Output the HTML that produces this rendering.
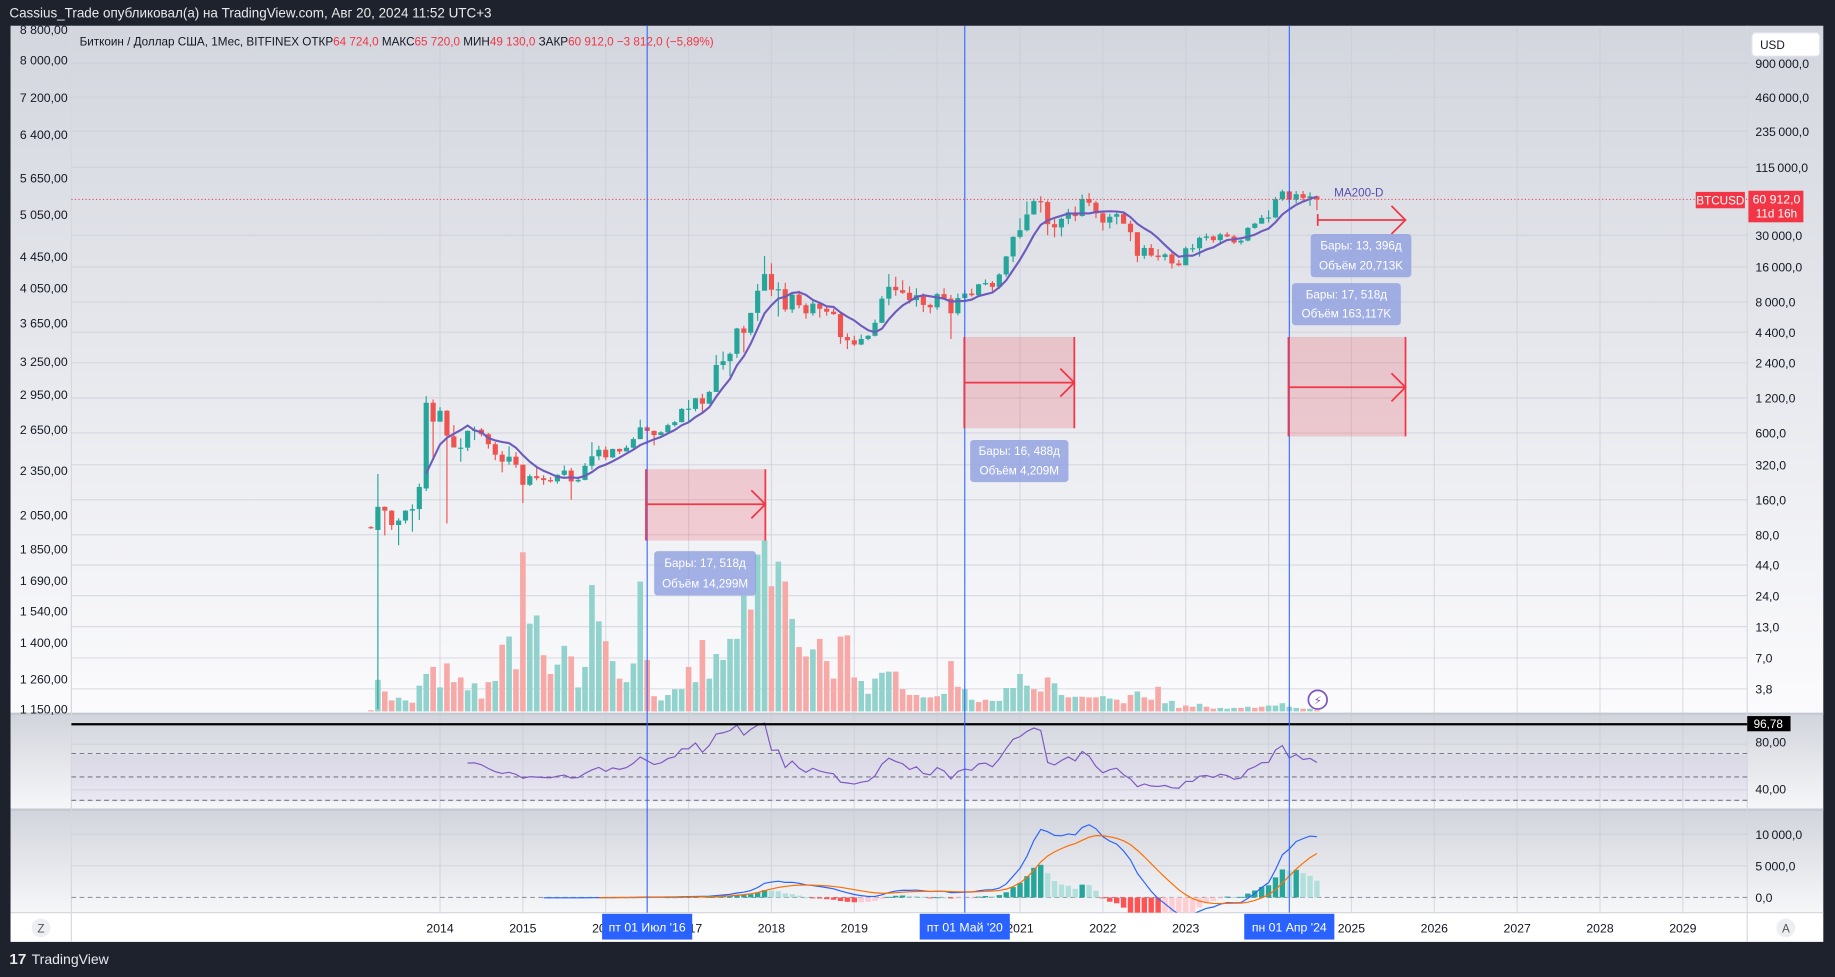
<!DOCTYPE html>
<html><head><meta charset="utf-8"><style>
html,body{margin:0;padding:0;background:#1e222d;overflow:hidden}
svg{display:block}
text{font-family:"Liberation Sans","DejaVu Sans",sans-serif}
</style></head><body>
<svg id="chart" width="1835" height="977" viewBox="0 0 1568 835" preserveAspectRatio="none" xmlns="http://www.w3.org/2000/svg">
<defs>
<linearGradient id="gMain" x1="0" y1="0" x2="0" y2="1"><stop offset="0" stop-color="#d3d6de"/><stop offset="1" stop-color="#fbfbfd"/></linearGradient>
<linearGradient id="gSub" x1="0" y1="0" x2="0" y2="1"><stop offset="0" stop-color="#d1d4dc"/><stop offset="1" stop-color="#f6f7f9"/></linearGradient>
<clipPath id="cMain"><rect x="61" y="22" width="1432" height="587"/></clipPath>
<clipPath id="cRsi"><rect x="61" y="611" width="1432" height="81"/></clipPath>
<clipPath id="cMacd"><rect x="61" y="693" width="1432" height="87"/></clipPath>
</defs>
<rect x="0" y="0" width="1568" height="835" fill="#1e222d"/>
<text x="8" y="15" font-size="11.5" fill="#e8e9ec">Cassius_Trade опубликовал(а) на TradingView.com, Авг 20, 2024 11:52 UTC+3</text>
<rect x="9" y="22" width="1549" height="588" fill="url(#gMain)"/>
<rect x="9" y="610" width="1549" height="82" fill="url(#gSub)"/>
<rect x="61" y="645" width="1432" height="40" fill="#7e57c2" fill-opacity="0.08"/>
<rect x="9" y="692" width="1549" height="88" fill="url(#gSub)"/>
<rect x="9" y="780" width="1549" height="25" fill="#ffffff"/>
<line x1="9" y1="610" x2="1558" y2="610" stroke="#c5c8d0" stroke-width="2"/>
<line x1="9" y1="692" x2="1558" y2="692" stroke="#c5c8d0" stroke-width="2"/>
<line x1="9" y1="780" x2="1558" y2="780" stroke="#d6d8de"/>
<line x1="61" y1="22" x2="61" y2="805" stroke="#d6d8de"/>
<line x1="1493" y1="22" x2="1493" y2="805" stroke="#d6d8de"/>
<g id="grid"></g>
<g id="vol" clip-path="url(#cMain)"></g>
<g id="candles" clip-path="url(#cMain)"></g>
<g id="ma" clip-path="url(#cMain)"></g>
<g id="rsi" clip-path="url(#cRsi)"></g>
<g id="macd" clip-path="url(#cMacd)"></g>
<g id="axes"></g>
<g id="anno"></g>
<text x="68" y="39" font-size="10" fill="#131722">Биткоин / Доллар США, 1Мес, BITFINEX  ОТКР<tspan fill="#f23645">64 724,0</tspan>  МАКС<tspan fill="#f23645">65 720,0</tspan>  МИН<tspan fill="#f23645">49 130,0</tspan>  ЗАКР<tspan fill="#f23645">60 912,0  −3 812,0 (−5,89%)</tspan></text>
<g><rect x="1497" y="28" width="58" height="20" rx="3" fill="#ffffff" stroke="#e0e3eb"/><text x="1504" y="42" font-size="10" fill="#131722">USD</text></g>
<g><circle cx="35" cy="793" r="8" fill="#eceef2"/><text x="35" y="797" font-size="10" fill="#555" text-anchor="middle">Z</text></g>
<g><circle cx="1526" cy="793" r="8" fill="#eceef2"/><text x="1526" y="797" font-size="10" fill="#555" text-anchor="middle">A</text></g>
<g><text x="8" y="824" font-size="13" font-weight="bold" fill="#e8e9ec">17</text><text x="27" y="824" font-size="12" fill="#e8e9ec">TradingView</text></g>
<g><circle cx="1126" cy="598" r="8" fill="#fff" stroke="#7e57c2" stroke-width="1.5"/><text x="1126" y="602" font-size="10" fill="#7e57c2" text-anchor="middle">⚡</text></g>
</svg>
<script>
// ---- data (monthly, first = 2013-03) ----
const opens  = [93,88,139,129,97,106,129,133,200,1090,750,930,560,445,448,625,640,585,480,390,340,375,320,215,255,245,236,230,262,285,230,237,313,378,430,370,437,416,448,531,670,624,575,608,700,742,965,965,1190,1070,1350,2300,2480,2870,4740,4350,6450,10000,13900,10200,10300,6900,9250,7500,6400,7750,7000,6600,6300,4000,3750,3450,3850,4100,5300,8550,10800,10100,9600,8300,9150,7550,7200,9350,8550,6400,8650,9450,9150,11350,11650,10800,13800,19700,29000,33100,45200,58800,57700,37300,35000,41500,47100,43800,61300,57000,46200,38500,43200,45500,37650,31800,19950,23300,20050,19450,20500,17150,16550,23150,23150,28450,29250,27200,30450,29250,25950,26950,34650,37700,42250,42600,61150,71300,60650,67500,62750,64724];
const highs  = [95,266,140,130,111,130,146,220,1242,1163,1000,940,700,540,630,680,660,600,500,420,460,410,320,265,300,260,250,265,315,300,245,330,500,465,460,440,440,470,550,780,700,630,620,720,760,980,1150,1200,1300,1380,2800,3000,2950,4800,5000,6450,11400,19900,17200,11800,11700,9750,10000,7800,8500,7800,7400,7000,6550,4300,4100,4200,4150,5650,9000,13900,13200,12300,10900,10500,9500,7750,9600,10500,9200,9450,10100,10400,11450,12500,12100,14100,19900,29300,41950,58400,61800,64900,59600,41300,42400,50500,52900,67000,69000,59100,48000,45800,48200,47450,40000,31950,24650,25200,22800,21100,21500,18400,23950,25250,29200,31000,29850,31400,31800,30200,27450,35200,38400,44750,48950,63900,73800,72800,71950,71950,70000,65720];
const lows   = [90,2.5,79,88,65,100,85,107,190,368,750,100,450,340,420,520,560,440,350,275,320,300,150,210,235,215,225,220,255,160,225,235,290,350,350,365,395,415,440,530,480,470,570,605,680,740,750,920,890,1060,1350,2100,1840,2650,2950,4150,5500,10400,9000,6000,6600,6450,7050,5750,6100,5880,6100,6200,3500,3150,3350,3400,3750,4050,5300,7500,9050,9400,7750,7300,6550,6400,6850,8450,3850,6150,8100,8900,8950,11100,9850,10400,13200,17600,28100,32300,45000,47000,30000,28800,29300,37300,39600,43300,53300,42000,32900,34300,37200,37700,26700,17600,18800,19550,18150,18200,15500,16250,16500,21400,19600,26950,25850,24800,28900,25200,24900,26550,34100,37600,38550,41900,59300,56500,56550,58400,53550,49130];
const closes = [92,139,129,97,106,129,133,206,1090,750,930,570,450,448,625,640,585,480,390,340,375,320,215,255,245,236,230,262,285,230,237,313,378,430,370,437,416,448,531,670,624,575,608,700,742,965,970,1190,1070,1350,2300,2480,2870,4740,4350,6450,10000,13900,10200,10300,6900,9250,7500,6400,7750,7000,6600,6300,4000,3750,3450,3850,4100,5300,8550,10800,10100,9600,8300,9150,7550,7200,9350,8550,6400,8650,9450,9150,11350,11650,10800,13800,19700,29000,33100,45200,58800,57700,37300,35000,41500,47100,43800,61300,57000,46200,38500,43200,45500,37650,31800,19950,23300,20050,19450,20500,17150,16550,23150,23150,28450,29250,27200,30450,29250,25950,26950,34650,37700,42250,42600,61150,71300,60650,67500,62750,64724,60912];
const volumes = [1,27,17,9.4,11.7,9.4,7.4,22,32,38,20.5,41,25,29,18,24,11,25,26,57,64,36,136,75,82,48,32,40,56,47,20.5,38,108,77,60,43,28,25,41,111,44,13,9.4,14,19,19,38,25,61,28,49,44,62,62,99,87,134,146,107,128,111,79,55,47,53,62,43,28,64,65,29,26,15,28,33,34,34,19,14,14,12,12,13,15,43,21,19,10,8,10,9,9,20,20,32,22,19,17,29,24,14,12,12.5,12.5,12,12,13,11,10,7,14,17,12,10,21,7,9,3,5,4,6.5,4,2.3,3,2.3,3,3,4,3,4,5,5,7,4,3,2.3,2.3,1];
const volUp  = [0,1,0,0,1,1,0,1,1,0,1,0,0,0,1,1,0,0,1,0,1,0,0,1,1,0,0,1,1,0,1,1,1,1,0,1,0,1,1,1,0,0,1,1,1,1,0,1,0,1,1,1,1,1,1,0,1,1,0,1,0,1,0,0,1,0,0,0,0,0,0,1,1,1,1,1,0,0,0,0,1,0,0,1,0,0,1,1,0,0,1,1,1,1,1,1,0,0,0,1,1,0,1,0,0,0,1,1,0,0,0,1,0,0,0,1,1,0,0,0,1,0,0,1,1,1,0,1,0,0,1,1,1,1,1,0,1,0];
const priceTicks = [900000,460000,235000,115000,30000,16000,8000,4400,2400,1200,600,320,160,80,44,24,13,7,3.8];
const leftTicks = ["8 800,00","8 000,00","7 200,00","6 400,00","5 650,00","5 050,00","4 450,00","4 050,00","3 650,00","3 250,00","2 950,00","2 650,00","2 350,00","2 050,00","1 850,00","1 690,00","1 540,00","1 400,00","1 260,00","1 150,00"];
const leftTickY = [25,51,83,115,152,183,219,246,276,309,337,367,402,440,469,496,522,549,580,606];
const years = [2014,2015,2016,2017,2018,2019,2020,2021,2022,2023,2024,2025,2026,2027,2028,2029];
const rsiTicks = [80,40];
const rsiLevels = [70,50,30];
const macdTicks = [10000,5000,0];

// ---- axes ----
const xI = i => 317 + 5.9*i;
const xYear = y => xI(10 + 12*(y-2014));
const yP = p => 201 - 43.2*Math.log(p/30000);
const yV = v => 608 - v*(146/146);
const yR = v => 714 - v;
const yM = v => 767 - v*0.0054;
const NS = "http://www.w3.org/2000/svg";
function el(tag, attrs, parent){const e=document.createElementNS(NS,tag);for(const k in attrs)e.setAttribute(k,attrs[k]);parent.appendChild(e);return e;}
const G = id => document.getElementById(id);
const fmt = v => { let s = v>=100 ? Math.round(v).toString().replace(/\B(?=(\d{3})+(?!\d))/g,"\u2009") : String(v).replace(".",","); return s + (v>=100||Number.isInteger(v)? ",0":""); };

// grid
const grid=G("grid");
years.forEach(y=>{const l=el("line",{x1:xYear(y),x2:xYear(y),y1:22,y2:780,stroke:"#c9ccd4","stroke-opacity":"0.6"},grid);

});
priceTicks.forEach(p=>{const l=el("line",{x1:61,x2:1493,y1:yP(p),y2:yP(p),stroke:"#c9ccd4","stroke-opacity":"0.6"},grid);

});
[636,675].forEach(y=>el("line",{x1:61,x2:1493,y1:y,y2:y,stroke:"#c9ccd4","stroke-opacity":"0.6"},grid));
macdTicks.slice(0,2).forEach(v=>el("line",{x1:61,x2:1493,y1:yM(v),y2:yM(v),stroke:"#c9ccd4","stroke-opacity":"0.6"},grid));
rsiLevels.forEach(v=>{const l=el("line",{x1:61,x2:1493,y1:yR(v),y2:yR(v),stroke:"#787b86","stroke-dasharray":"4 3","stroke-width":"0.9"},grid);

});
{const l=el("line",{x1:61,x2:1493,y1:yM(0),y2:yM(0),stroke:"#9598a1","stroke-dasharray":"4 3","stroke-width":"0.9"},grid);

}

// volume
const vol=G("vol");
volumes.forEach((v,i)=>{const r=el("rect",{x:xI(i)-2.4,y:yV(v),width:4.8,height:608-yV(v),fill:volUp[i]?"#92d2cc":"#f7a9a7"},vol);

});

// candles
const cg=G("candles");
closes.forEach((c,i)=>{const o=opens[i],up=c>=o,col=up?"#26a69a":"#ef5350";
const w=el("line",{x1:xI(i),x2:xI(i),y1:yP(highs[i]),y2:Math.min(yP(lows[i]),606),stroke:col,"stroke-width":"1"},cg);


const t=Math.min(yP(o),yP(c)),h=Math.max(1,Math.abs(yP(o)-yP(c)));
const b=el("rect",{x:xI(i)-2.2,y:t,width:4.4,height:h,fill:col},cg);

});

// MA (≈200 days ≈ 7 months)
let maPts=[];
for(let i=8;i<closes.length;i++){let s=0,n=0;for(let k=Math.max(0,i-6);k<=i;k++){s+=closes[k];n++;}maPts.push(xI(i)+","+yP(s/n));}
{const p=el("polyline",{points:maPts.join(" "),fill:"none",stroke:"#6c5bbd","stroke-width":"1.8"},G("ma"));

}
{const t=el("text",{x:1140,y:168,"font-size":"10",fill:"#5b4cb0"},G("anno"));t.textContent="MA200-D";

}

// RSI 14
let rsiPts=[];{let ag=0,al=0;for(let i=1;i<closes.length;i++){const d=closes[i]-closes[i-1],g=Math.max(d,0),l=Math.max(-d,0);
if(i<=14){ag+=g/14;al+=l/14;}else{ag=(ag*13+g)/14;al=(al*13+l)/14;}
if(i>=14){const r=al===0?100:100-100/(1+ag/al);rsiPts.push(xI(i)+","+yR(r));}}}
{const p=el("polyline",{points:rsiPts.join(" "),fill:"none",stroke:"#7e57c2","stroke-width":"1"},G("rsi"));

}
{const l=el("line",{x1:61,x2:1493,y1:619,y2:619,stroke:"#000","stroke-width":"2"},G("anno"));

}

// MACD 12/26/9
function ema(arr,n,start){const out=[];let v=null;const k=2/(n+1);for(let i=0;i<arr.length;i++){if(arr[i]==null||i<start){out.push(null);continue;}
if(v===null){if(i-start+1<n){out.push(null);continue;}let s=0;for(let j=i-n+1;j<=i;j++)s+=arr[j];v=s/n;}else v=arr[i]*k+v*(1-k);out.push(v);}return out;}
const e12=ema(closes,12,0),e26=ema(closes,26,0);
const macdV=closes.map((_,i)=>e26[i]==null?null:e12[i]-e26[i]);
const firstM=macdV.findIndex(v=>v!=null);
const sigV=ema(macdV,9,firstM);
const mg=G("macd");
for(let i=0;i<closes.length;i++){if(sigV[i]==null)continue;const h=macdV[i]-sigV[i],ph=sigV[i-1]==null?0:macdV[i-1]-sigV[i-1];
const col=h>=0?(h>=ph?"#26a69a":"#b2dfdb"):(h<ph?"#ff5252":"#ffcdd2");
const r=el("rect",{x:xI(i)-2.3,y:Math.min(yM(h),yM(0)),width:4.6,height:Math.max(0.8,Math.abs(yM(h)-yM(0))),fill:col},mg);

}
{const p=el("polyline",{points:macdV.map((v,i)=>v==null?null:xI(i)+","+yM(v)).filter(Boolean).join(" "),fill:"none",stroke:"#2962ff","stroke-width":"1"},mg);

}
{const p=el("polyline",{points:sigV.map((v,i)=>v==null?null:xI(i)+","+yM(v)).filter(Boolean).join(" "),fill:"none",stroke:"#ff6d00","stroke-width":"1"},mg);

}

// axes labels
const ax=G("axes");
priceTicks.forEach(p=>{const t=el("text",{x:1500,y:yP(p)+4,"font-size":"10.5",fill:"#131722"},ax);t.textContent=fmt(p);

});
leftTicks.forEach((s,k)=>{const t=el("text",{x:17,y:leftTickY[k]+4,"font-size":"10.5",fill:"#131722"},ax);t.textContent=s;

});
rsiTicks.forEach(v=>{const t=el("text",{x:1500,y:yR(v)+4,"font-size":"10.5",fill:"#131722"},ax);t.textContent=v+",00";

});
macdTicks.forEach(v=>{const t=el("text",{x:1500,y:yM(v)+4,"font-size":"10.5",fill:"#131722"},ax);t.textContent=fmt(v);

});
years.forEach(y=>{const t=el("text",{x:xYear(y),y:797,"font-size":"10.5",fill:"#131722","text-anchor":"middle"},ax);t.textContent=y;

});

// annotations
const an=G("anno");
const vlines=[40,86,133];
const vlabels=["пт 01 Июл '16","пт 01 Май '20","пн 01 Апр '24"];
vlines.forEach((i,k)=>{const l=el("line",{x1:xI(i),x2:xI(i),y1:22,y2:780,stroke:"#2962ff","stroke-width":"0.9"},an);


const r=el("rect",{x:xI(i)-38.5,y:781,width:77,height:22,fill:"#2962ff"},an);


const t=el("text",{x:xI(i),y:796,"font-size":"10.5",fill:"#fff","text-anchor":"middle"},an);t.textContent=vlabels[k];});
function range(x1,x2,y1,y2,ya,name){const g=el("g",{},an);


if(y2>y1){el("rect",{x:x1,y:y1,width:x2-x1,height:y2-y1,fill:"#f23645","fill-opacity":"0.2"},g);
el("line",{x1:x1,x2:x1,y1:y1,y2:y2,stroke:"#f23645","stroke-width":"1.5"},g);
el("line",{x1:x2,x2:x2,y1:y1,y2:y2,stroke:"#f23645","stroke-width":"1.5"},g);}
else el("line",{x1:x1,x2:x1,y1:ya-5,y2:ya+5,stroke:"#f23645","stroke-width":"1.5"},g);
el("line",{x1:x1,x2:x2,y1:ya,y2:ya,stroke:"#f23645","stroke-width":"1.5"},g);
el("polyline",{points:(x2-12)+","+(ya-12)+" "+x2+","+ya+" "+(x2-12)+","+(ya+12),fill:"none",stroke:"#f23645","stroke-width":"1.5"},g);}
function label(x,y,w,h,l1,l2,name){const g=el("g",{},an);


el("rect",{x:x,y:y,width:w,height:h,rx:3,fill:"#8e9fe0","fill-opacity":"0.8"},g);
const a=el("text",{x:x+w/2,y:y+h*0.36,"font-size":"10","fill":"#fff","text-anchor":"middle"},g);a.textContent=l1;
const b=el("text",{x:x+w/2,y:y+h*0.82,"font-size":"10","fill":"#fff","text-anchor":"middle"},g);b.textContent=l2;}
range(552,654,401,462,431,"range-2016");
label(559,471,87,38,"Бары: 17, 518д","Объём 14,299M","range-2016-label");
range(824,918,288,366,327,"range-2020");
label(829,376,84,36,"Бары: 16, 488д","Объём 4,209M","range-2020-label");
range(1101,1201,288,373,331,"range-2024");
label(1104,242,93,36,"Бары: 17, 518д","Объём 163,117K","range-2024-label");
range(1126,1201,0,0,188,"range-current");
label(1120,200,86,37,"Бары: 13, 396д","Объём 20,713K","range-current-label");
// price line
{const l=el("line",{x1:61,x2:1493,y1:yP(closes[closes.length-1]),y2:yP(closes[closes.length-1]),stroke:"#f23645","stroke-dasharray":"1 2","stroke-width":"0.9"},an);

}
{const g=el("g",{},an);


el("rect",{x:1449,y:164,width:42,height:14,fill:"#f23645"},g);
const a=el("text",{x:1470,y:175,"font-size":"10",fill:"#fff","text-anchor":"middle"},g);a.textContent="BTCUSD";
el("rect",{x:1494,y:163,width:47,height:27,fill:"#f23645"},g);
const b=el("text",{x:1518,y:174,"font-size":"10.5",fill:"#fff","text-anchor":"middle"},g);b.textContent="60 912,0";
const c=el("text",{x:1518,y:186,"font-size":"10",fill:"#fff","text-anchor":"middle"},g);c.textContent="11d 16h";}
{const g=el("g",{},an);


el("rect",{x:1493,y:612,width:37,height:13,fill:"#000"},g);
const a=el("text",{x:1511,y:622,"font-size":"10",fill:"#fff","text-anchor":"middle"},g);a.textContent="96,78";}
</script>
</body></html>
